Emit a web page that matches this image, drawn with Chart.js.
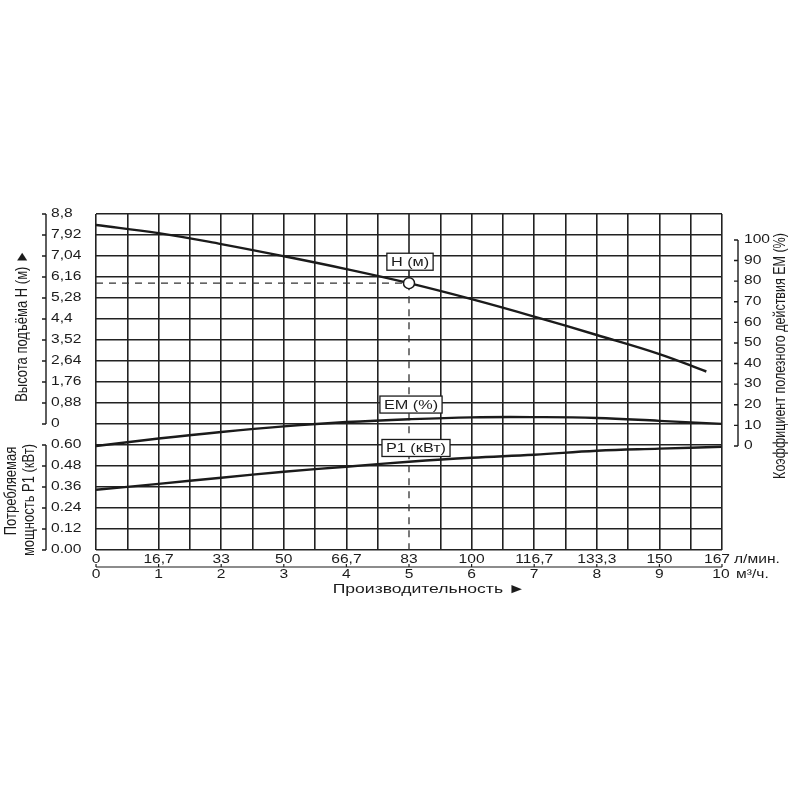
<!DOCTYPE html>
<html>
<head>
<meta charset="utf-8">
<script src="https://cdn.jsdelivr.net/npm/chart.js@4.4.1/dist/chart.umd.min.js"></script>
<style>
  html, body { margin: 0; padding: 0; background: #fff; }
  #wrap { width: 800px; height: 800px; position: relative; }
</style>
</head>
<body>
<div id="wrap"><canvas id="pumpChart"></canvas></div>
<script>
// Flow axis: m3/h ticks and the matching l/min labels
const flowTicks = [0, 1, 2, 3, 4, 5, 6, 7, 8, 9, 10];
const flowLminLabels = ['0', '16,7', '33', '50', '66,7', '83', '100', '116,7', '133,3', '150', '167'];

// Head curve H (m)
const headFlow = [0, 1, 2, 3, 4, 5, 6, 7, 8, 9, 9.75];
const headValues = [8.34, 8.0, 7.54, 7.03, 6.49, 5.9, 5.23, 4.5, 3.73, 2.93, 2.2];

// Efficiency curve EM (%)
const effFlow = [0, 1, 2, 3, 4, 5, 6, 7, 8, 9, 10];
const effValues = [0, 3.6, 6.8, 9.5, 11.6, 13.0, 13.9, 14.0, 13.6, 12.2, 10.7];

// Power curve P1 (kW)
const powerFlow = [0, 1, 2, 3, 4, 5, 6, 7, 8, 9, 10];
const powerValues = [0.344, 0.378, 0.413, 0.447, 0.476, 0.504, 0.527, 0.544, 0.567, 0.579, 0.59];

// Duty point marked on the head curve
const dutyFlow = 5;
const dutyHead = 5.9;

// Tick labels of the three value axes
const headTicks = [0, 0.88, 1.76, 2.64, 3.52, 4.4, 5.28, 6.16, 7.04, 7.92, 8.8];
const headTickLabels = ['0', '0,88', '1,76', '2,64', '3,52', '4,4', '5,28', '6,16', '7,04', '7,92', '8,8'];
const powerTicks = [0, 0.12, 0.24, 0.36, 0.48, 0.6];
const powerTickLabels = ['0.00', '0.12', '0.24', '0.36', '0.48', '0.60'];
const effTicks = [0, 10, 20, 30, 40, 50, 60, 70, 80, 90, 100];

// scale ranges so that all three share one 16-row grid
const H_MIN = -5.28, H_MAX = 8.8;
const SX = 1.3; // the original artwork is stretched sideways
const FONT = "'Liberation Sans', Arial, sans-serif";
const INK = '#1b1b1b';
const GRID = '#222';

function drawText(ctx, str, x, y, size, align, rotate) {
    ctx.save();
    ctx.translate(x, y);
    ctx.scale(SX, 1);
    if (rotate) ctx.rotate(-Math.PI / 2);
    ctx.font = size + 'px ' + FONT;
    ctx.fillStyle = INK;
    ctx.textAlign = align || 'center';
    ctx.textBaseline = 'middle';
    ctx.fillText(str, 0, 0);
    ctx.restore();
}

// axis drawn as a "]" bracket with ticks pointing left
function bracket(ctx, scale, ticks, xLine) {
    const top = scale.getPixelForValue(ticks[ticks.length - 1]);
    const bottom = scale.getPixelForValue(ticks[0]);
    ctx.beginPath();
    ctx.moveTo(xLine, top);
    ctx.lineTo(xLine, bottom);
    ticks.forEach(v => {
        const y = scale.getPixelForValue(v);
        ctx.moveTo(xLine - 4, y);
        ctx.lineTo(xLine, y);
    });
    ctx.stroke();
}

// boxed curve name
function tag(ctx, str, cx, cy) {
    ctx.font = '12.5px ' + FONT;
    const w = ctx.measureText(str).width * SX + 8;
    const h = 17;
    ctx.fillStyle = '#fff';
    ctx.fillRect(cx - w / 2, cy - h / 2, w, h);
    ctx.strokeStyle = INK;
    ctx.lineWidth = 1.3;
    ctx.strokeRect(cx - w / 2, cy - h / 2, w, h);
    drawText(ctx, str, cx, cy + 0.5, 12.5);
}

const decorPlugin = {
    id: 'pumpDecor',
    afterDraw(chart) {
        const ctx = chart.ctx;
        const { x, yH, yP, yEM } = chart.scales;
        ctx.save();
        ctx.strokeStyle = INK;
        ctx.lineWidth = 1.4;

        // left: head axis
        bracket(ctx, yH, headTicks, 46);
        headTicks.forEach((v, i) => drawText(ctx, headTickLabels[i], 51, yH.getPixelForValue(v), 12, 'left'));
        drawText(ctx, 'Высота подъёма H (м) ►', 22, 326, 13, 'center', true);

        // left: power axis
        bracket(ctx, yP, powerTicks, 46);
        powerTicks.forEach((v, i) => drawText(ctx, powerTickLabels[i], 51, yP.getPixelForValue(v), 12, 'left'));
        drawText(ctx, 'Потребляемая', 11, 491, 13, 'center', true);
        drawText(ctx, 'мощность P1 (кВт)', 29, 500, 13, 'center', true);

        // right: efficiency axis
        bracket(ctx, yEM, effTicks, 738);
        effTicks.forEach(v => drawText(ctx, String(v), 744, yEM.getPixelForValue(v), 12, 'left'));
        drawText(ctx, 'Коэффициент полезного действия EM (%)', 781, 356, 12.5, 'center', true);

        // bottom: two flow scales
        const x0 = x.getPixelForValue(flowTicks[0]);
        const x1 = x.getPixelForValue(flowTicks[flowTicks.length - 1]);
        ctx.lineWidth = 1.2;
        ctx.beginPath();
        ctx.moveTo(x0, 567);
        ctx.lineTo(x1, 567);
        flowTicks.forEach(v => {
            const px = x.getPixelForValue(v);
            ctx.moveTo(px, 564);
            ctx.lineTo(px, 567);
        });
        ctx.stroke();
        const last = flowTicks.length - 1;
        flowTicks.forEach((v, i) => {
            const px = x.getPixelForValue(v);
            drawText(ctx, flowLminLabels[i], i === last ? px - 5 : px, 560, 12);
            drawText(ctx, String(v), i === last ? px - 1 : px, 575, 12);
        });
        drawText(ctx, 'л/мин.', x1 + 12, 560, 12, 'left');
        drawText(ctx, 'м³/ч.', x1 + 14, 575, 12, 'left');
        drawText(ctx, 'Производительность ►', 429, 589, 13.5);

        // curve names
        const xd = x.getPixelForValue(dutyFlow);
        tag(ctx, 'H (м)', xd + 1, yH.getPixelForValue(6.8));
        tag(ctx, 'EM (%)', xd + 2, yEM.getPixelForValue(20.1));
        tag(ctx, 'P1 (кВт)', xd + 7, yP.getPixelForValue(0.583));
        ctx.restore();
    }
};

function pts(xs, ys) {
    return xs.map((v, i) => ({ x: v, y: ys[i] }));
}

const curveStyle = {
    borderColor: INK,
    borderWidth: 2.4,
    pointRadius: 0,
    tension: 0.4
};

const ctx = document.getElementById('pumpChart').getContext('2d');
const pumpChart = new Chart(ctx, {
    type: 'line',
    data: {
        datasets: [
            {   // duty point marker
                data: [{ x: dutyFlow, y: dutyHead }],
                yAxisID: 'yH',
                showLine: false,
                pointRadius: 5.5,
                pointBackgroundColor: '#fff',
                pointBorderColor: INK,
                pointBorderWidth: 1.5
            },
            Object.assign({ label: 'H (м)', data: pts(headFlow, headValues), yAxisID: 'yH' }, curveStyle),
            Object.assign({ label: 'EM (%)', data: pts(effFlow, effValues), yAxisID: 'yEM' }, curveStyle),
            Object.assign({ label: 'P1 (кВт)', data: pts(powerFlow, powerValues), yAxisID: 'yP' }, curveStyle),
            {   // dashed leader to the head axis
                data: [{ x: 0, y: dutyHead }, { x: dutyFlow, y: dutyHead }],
                yAxisID: 'yH',
                borderColor: '#333',
                borderWidth: 1.3,
                borderDash: [7, 6],
                pointRadius: 0
            },
            {   // dashed leader down to the flow axis
                data: [{ x: dutyFlow, y: dutyHead }, { x: dutyFlow, y: H_MIN }],
                yAxisID: 'yH',
                borderColor: '#333',
                borderWidth: 1.3,
                borderDash: [7, 6],
                pointRadius: 0
            },
            {   // grid line above the duty point stays solid
                data: [{ x: dutyFlow, y: H_MAX }, { x: dutyFlow, y: dutyHead }],
                yAxisID: 'yH',
                borderColor: GRID,
                borderWidth: 1.6,
                pointRadius: 0
            }
        ]
    },
    options: {
        responsive: true,
        maintainAspectRatio: false,
        animation: false,
        layout: { padding: { left: 96, right: 78, top: 214, bottom: 250 } },
        scales: {
            x: {
                type: 'linear',
                min: 0,
                max: 10,
                ticks: { stepSize: 0.5, display: false },
                grid: {
                    color: c => (c.tick && c.tick.value === dutyFlow) ? 'rgba(0,0,0,0)' : GRID,
                    lineWidth: 1.6,
                    drawTicks: false
                },
                border: { display: false }
            },
            yGrid: {
                type: 'linear',
                position: 'left',
                min: 0,
                max: 16,
                ticks: { stepSize: 1, display: false },
                grid: { color: GRID, lineWidth: 1.6, drawTicks: false },
                border: { display: false }
            },
            yH: { type: 'linear', display: false, min: H_MIN, max: H_MAX },
            yP: { type: 'linear', display: false, min: 0, max: 1.92 },
            yEM: { type: 'linear', display: false, min: -50.5, max: 112.6 }
        },
        plugins: {
            legend: { display: false },
            tooltip: { enabled: false }
        }
    },
    plugins: [decorPlugin]
});
</script>
</body>
</html>
